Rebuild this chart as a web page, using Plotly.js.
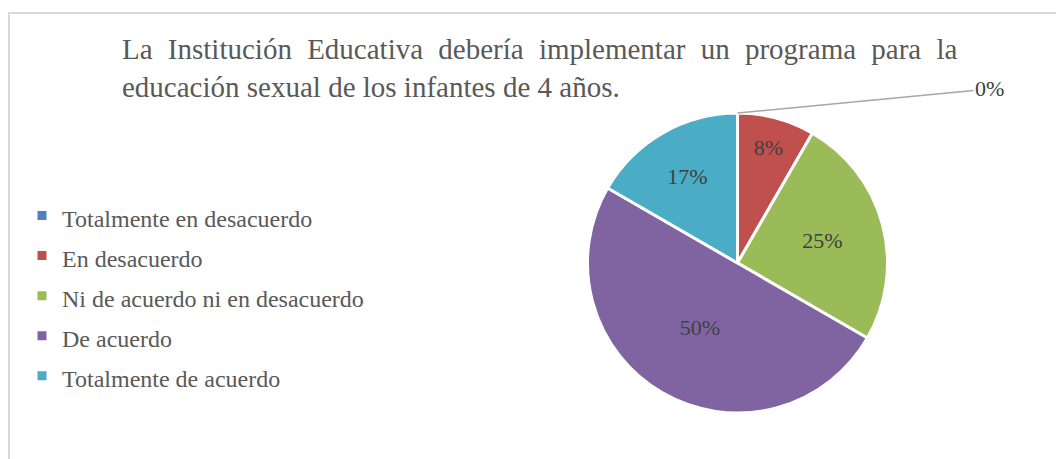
<!DOCTYPE html>
<html>
<head>
<meta charset="utf-8">
<script src="https://cdn.plot.ly/plotly-3.0.1.min.js"></script>
<style>
  body { margin: 0; background: #fff; }
  #chart { width: 1056px; height: 459px; }
  #frame { position: absolute; left: 8px; top: 12px; width: 1100px; height: 500px;
           border: 2px solid #d9d9d9; pointer-events: none; }
</style>
</head>
<body>
<div id="chart"></div>
<div id="frame"></div>
<script>
// respuestas de la encuesta (conteos)
var categorias = ["Totalmente en desacuerdo", "En desacuerdo", "Ni de acuerdo ni en desacuerdo", "De acuerdo", "Totalmente de acuerdo"];
var conteos = [0, 1, 3, 6, 2];
var colores = ["#4f81bd", "#c0504d", "#9bbb59", "#8064a2", "#4bacc6"];

var serif = "Liberation Serif, Times New Roman, serif";

var trace = {
  type: "pie",
  labels: categorias.map(c => '<span style="font-size:24px">' + c + '</span>'),
  values: conteos,
  sort: false,
  direction: "clockwise",
  rotation: 0,
  marker: {colors: colores, line: {color: "#ffffff", width: 3}},
  textposition: "inside",
  insidetextorientation: "horizontal",
  texttemplate: conteos.map(v => v > 0 ? "%{percent:.0%}" : ""),
  textfont: {family: serif, size: 22, color: "#404040"},
  domain: {x: [587/1056, 888/1056], y: [1 - 413/459, 1 - 113/459]},
  hoverinfo: "label+percent"
};

var layout = {
  width: 1056,
  height: 459,
  margin: {l: 0, r: 0, t: 0, b: 0},
  paper_bgcolor: "#ffffff",
  font: {family: serif, color: "#595959"},
  title: {
    text: '<span style="word-spacing:8px">La Institución Educativa debería implementar un programa para la</span><br>educación sexual de los infantes de 4 años.',
    font: {family: serif, size: 29, color: "#595959"},
    x: 122/1056, xanchor: "left", xref: "paper",
    y: 1 - 59/459, yanchor: "top", yref: "paper"
  },
  showlegend: true,
  legend: {
    x: 22/1056, xanchor: "left",
    y: 1 - 296/459, yanchor: "middle",
    font: {family: serif, size: 28.5, color: "#595959"},
    bgcolor: "rgba(0,0,0,0)"
  },
  annotations: [{
    x: (587 + 888) / 2 / 1056, y: 1 - 113/459, xref: "paper", yref: "paper",
    text: "0%",
    showarrow: true, arrowhead: 0, arrowcolor: "#a6a6a6", arrowwidth: 1.5,
    ax: 252, ay: -24, standoff: 0,
    font: {family: serif, size: 22, color: "#404040"}
  }]
};

Plotly.newPlot("chart", [trace], layout, {displayModeBar: false, staticPlot: true});
</script>
</body>
</html>
